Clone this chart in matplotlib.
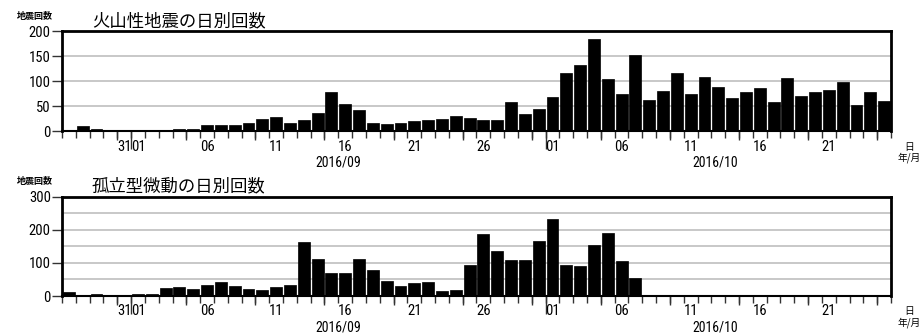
import matplotlib
matplotlib.use('Agg')
import matplotlib.pyplot as plt
from matplotlib import font_manager
from matplotlib.transforms import blended_transform_factory

# 2016/08/27 - 2016/10/25 (60 days)
day_labels = ['31', '01', '06', '11', '16', '21', '26', '01', '06', '11', '16', '21']
label_idx = [4, 5, 10, 15, 20, 25, 30, 35, 40, 45, 50, 55]
month_idx = [5, 35]
month_labels = ['2016/09', '2016/10']

volcanic = [2, 10, 5, 2, 1, 1, 1, 1, 4, 5,
            13, 13, 13, 17, 25, 28, 17, 23, 36, 78,
            55, 42, 17, 14, 17, 20, 23, 25, 31, 27,
            22, 22, 58, 35, 45, 69, 117, 132, 184, 105,
            75, 153, 63, 81, 117, 75, 108, 89, 67, 78,
            86, 59, 106, 70, 78, 83, 98, 53, 78, 61]

tremor = [13, 2, 7, 2, 2, 5, 5, 23, 26, 21,
          32, 41, 29, 22, 19, 28, 32, 162, 112, 70,
          68, 112, 79, 45, 29, 39, 43, 15, 18, 94,
          188, 137, 108, 108, 166, 233, 94, 92, 154, 191,
          107, 55, 0, 0, 0, 3, 3, 3, 1, 0,
          1, 2, 1, 2, 0, 0, 1, 2, 1, 1]

titles = ['火山性地震の日別回数', '孤立型微動の日別回数']
ylims = [200, 300]
yticks = [[0, 50, 100, 150, 200], [0, 100, 200, 300]]
grids = [[50, 100, 150], [50, 100, 150, 200, 250]]

# pick a narrow font for the numbers if one exists
names = set(f.name for f in font_manager.fontManager.ttflist)
num_font = 'DejaVu Sans'
for cand in ['Liberation Sans Narrow', 'Roboto Condensed', 'DejaVu Sans Condensed']:
    if cand in names:
        num_font = cand
        break
cjk = ['Noto Sans CJK JP', 'DejaVu Sans']

fig = plt.figure(figsize=(9.22, 3.33), dpi=100)
positions = [[0.0672, 0.6066, 0.8992, 0.3003], [0.0672, 0.1111, 0.8992, 0.2982]]
series = [volcanic, tremor]

for k in range(2):
    ax = fig.add_axes(positions[k])
    vals = series[k]
    x = list(range(len(vals)))
    ax.bar(x, vals, width=0.86, color='black', edgecolor='black', linewidth=0.5, zorder=3)
    for g in grids[k]:
        ax.axhline(g, color='#c4c4c4', linewidth=1.3, zorder=1)
    ax.set_xlim(-0.5, len(vals) - 0.5)
    ax.set_ylim(0, ylims[k])
    for s in ['top', 'left', 'right']:
        ax.spines[s].set_linewidth(2)
    ax.spines['bottom'].set_linewidth(1.5)
    ax.set_yticks(yticks[k])
    ax.set_yticklabels([str(v) for v in yticks[k]], fontsize=10.5, family=num_font)
    ax.tick_params(axis='y', length=7, width=1, pad=1, color='#333333')

    # day boundary ticks
    ax.set_xticks([i - 0.5 for i in range(len(vals) + 1)])
    ax.set_xticklabels([])
    ax.tick_params(axis='x', length=5, width=1, color='#333333')
    trans = blended_transform_factory(ax.transData, ax.transAxes)
    mid = [i - 0.5 for i in range(len(vals) + 1) if (i + 1) % 5 == 0 and i not in month_idx]
    ax.vlines(mid, -0.09, 0, transform=trans, color='#333333', linewidth=1, clip_on=False)
    ax.vlines([i - 0.5 for i in month_idx], -0.18, 0, transform=trans,
              color='#333333', linewidth=1, clip_on=False)
    for lab, i in zip(day_labels, label_idx):
        ax.text(i, -0.155, lab, transform=trans, ha='center', va='center',
                fontsize=10.5, family=num_font)
    for lab, xm in zip(month_labels, [19.5, 46.8]):
        ax.text(xm, -0.315, lab, transform=trans, ha='center', va='center',
                fontsize=10, family=num_font)

    ax.text(1.0165, -0.155, '日', transform=ax.transAxes, ha='left', va='center',
            fontsize=7, family=cjk)
    ax.text(1.008, -0.265, '年/月', transform=ax.transAxes, ha='left', va='center',
            fontsize=7, family=cjk)
    ax.text(-0.055, 1.15, '地震回数', transform=ax.transAxes, ha='left', va='center',
            fontsize=6.5, family=cjk, fontweight='bold')
    ax.text(0.036, 1.10, titles[k], transform=ax.transAxes, ha='left', va='center',
            fontsize=12.5, family=cjk)

fig.savefig('out.png', dpi=100)
